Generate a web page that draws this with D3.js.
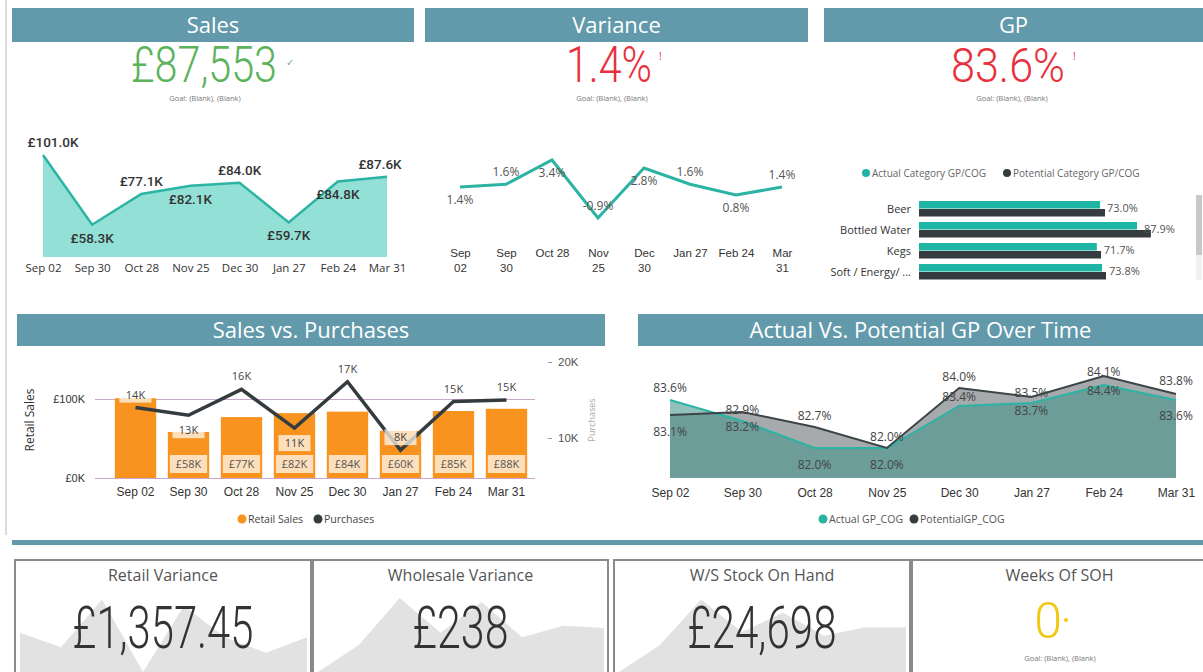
<!DOCTYPE html>
<html>
<head>
<meta charset="utf-8">
<script src="https://cdn.jsdelivr.net/npm/d3@7"></script>
<style>
body { margin: 0; background: #fff; }
svg { display: block; font-family: "Open Sans", sans-serif; }
</style>
</head>
<body>
<script>
// ---- data ----
var weeks = ["Sep 02", "Sep 30", "Oct 28", "Nov 25", "Dec 30", "Jan 27", "Feb 24", "Mar 31"];
var salesK = [101.0, 58.3, 77.1, 82.1, 84.0, 59.7, 84.8, 87.6];
var variancePct = [1.4, 1.6, 3.4, -0.9, 2.8, 1.6, 0.8, 1.4];
var purchasesK = [14.0, 13.0, 16.4, 11.3, 17.4, 8.4, 14.8, 15.0];
var gpCategories = ["Beer", "Bottled Water", "Kegs", "Soft / Energy/ ..."];
var actualCatGP = [73.0, 87.9, 71.7, 73.8];
var potentialCatGP = [75.0, 93.5, 73.4, 75.4];
var actualGP = [83.6, 82.9, 82.0, 82.0, 83.4, 83.5, 84.1, 83.6];
var potentialGP = [83.1, 83.2, 82.7, 82.0, 84.0, 83.7, 84.4, 83.8];
var kpiTitles = ["Retail Variance", "Wholesale Variance", "W/S Stock On Hand", "Weeks Of SOH"];
var kpiValues = ["£1,357.45", "£238", "£24,698", "0"];
var retailVarTrend = [51, 32, 94, 0, 86, 45, 25, 45];
var wholesaleVarTrend = [0, 35, 96, 51, 91, 45, 60, 57];
var stockTrend = [0, 35, 94, 52, 77, 47, 58, 58];

var width = 1203,
    height = 672;

var headColor = "#6299ab",
    teal = "#2bb3a3",
    dark = "#343c3f",
    orange = "#f7931e";

var svg = d3.select("body").append("svg")
    .attr("width", width)
    .attr("height", height);

// faint panel edge on the left
svg.append("line").attr("x1", 6).attr("x2", 6).attr("y1", 0).attr("y2", 535)
    .attr("stroke", "#dcdcdc").attr("stroke-width", 2);

function header(x, y, w, h, title) {
  svg.append("rect").attr("x", x).attr("y", y).attr("width", w).attr("height", h)
      .attr("fill", headColor);
  svg.append("text").attr("x", x + w / 2).attr("y", y + h / 2 + 8)
      .attr("text-anchor", "middle").attr("fill", "#fff")
      .style("font-size", "22px").text(title);
}

// condensed light number: squeeze horizontally to the width seen in the picture
function bigNumber(x, y, txt, len, color, size) {
  var g = svg.append("g");
  var t = g.append("text")
      .attr("text-anchor", "middle").attr("fill", color)
      .style("font-family", "Roboto, sans-serif").style("font-weight", 300)
      .style("font-size", size + "px").text(txt);
  var w = t.node().getComputedTextLength();
  g.attr("transform", "translate(" + x + "," + y + ") scale(" + (len / w) + ",1)");
}

function goal(x, y) {
  svg.append("text").attr("x", x).attr("y", y).attr("text-anchor", "middle")
      .attr("fill", "#777").style("font-size", "7.5px").text("Goal: (Blank), (Blank)");
}

header(12, 8, 402, 34, "Sales");
header(425, 8, 383, 34, "Variance");
header(824, 8, 379, 34, "GP");
header(17, 314, 588, 32, "Sales vs. Purchases");
header(638, 314, 565, 32, "Actual Vs. Potential GP Over Time");

bigNumber(204, 82, "£87,553", 146, "#5bb35b", 49);
svg.append("text").attr("x", 286).attr("y", 66).attr("fill", "#7fa88a")
    .style("font-size", "10px").text("✓");
goal(205, 101);

bigNumber(609, 82, "1.4%", 86, "#e8313d", 49);
svg.append("text").attr("x", 659).attr("y", 60).attr("fill", "#e8313d")
    .style("font-size", "10px").text("!");
goal(612, 101);

bigNumber(1008, 82, "83.6%", 114, "#e8313d", 49);
svg.append("text").attr("x", 1073).attr("y", 60).attr("fill", "#e8313d")
    .style("font-size", "10px").text("!");
goal(1012, 101);

// ---- Sales area ----
var sx = d3.scalePoint().domain(weeks).range([43, 387]);
var sy = d3.scaleLinear().domain([38.5, 101]).range([257, 155]);

svg.append("path").datum(salesK)
    .attr("fill", "#93e1d6")
    .attr("d", d3.area()
        .x(function(d, i) { return sx(weeks[i]); })
        .y0(sy(38.5))
        .y1(function(d) { return sy(d); }));

svg.append("path").datum(salesK)
    .attr("fill", "none").attr("stroke", teal).attr("stroke-width", 2.5)
    .attr("d", d3.line()
        .x(function(d, i) { return sx(weeks[i]); })
        .y(function(d) { return sy(d); }));

var salesAbove = [1, 0, 1, 0, 1, 0, 0, 1];
svg.selectAll(".slbl").data(salesK).enter().append("text")
    .attr("class", "slbl")
    .attr("x", function(d, i) { return Math.min(380, Math.max(53, sx(weeks[i]))); })
    .attr("y", function(d, i) { return sy(d) + (salesAbove[i] ? -8 : 18); })
    .attr("text-anchor", "middle").attr("fill", "#333")
    .style("font-family", "Roboto, sans-serif").style("font-weight", 500)
    .style("font-size", "13.5px")
    .text(function(d) { return "£" + d.toFixed(1) + "K"; });

var sAxis = svg.append("g").attr("transform", "translate(0,257)")
    .call(d3.axisBottom(sx).tickSize(0).tickPadding(7));
sAxis.select(".domain").remove();
sAxis.selectAll("text").attr("fill", "#333").style("font-size", "11.5px")
    .style("font-family", "Open Sans, sans-serif");

// ---- Variance line ----
var vx = d3.scalePoint().domain(weeks).range([460, 782]);
var vy = d3.scaleLinear().domain([-0.9, 3.4]).range([218, 160]);

svg.append("path").datum(variancePct)
    .attr("fill", "none").attr("stroke", teal).attr("stroke-width", 3)
    .attr("d", d3.line()
        .x(function(d, i) { return vx(weeks[i]); })
        .y(function(d) { return vy(d); }));

var varAbove = [0, 1, 0, 1, 0, 1, 0, 1];
svg.selectAll(".vlbl").data(variancePct).enter().append("text")
    .attr("class", "vlbl")
    .attr("x", function(d, i) { return vx(weeks[i]); })
    .attr("y", function(d, i) { return vy(d) + (varAbove[i] ? -8 : 17); })
    .attr("text-anchor", "middle").attr("fill", "#555")
    .style("font-size", "12px")
    .text(function(d) { return d.toFixed(1) + "%"; });

var varWrap = [1, 1, 0, 1, 1, 0, 0, 1];
var vAxis = svg.append("g").attr("transform", "translate(0,245)")
    .call(d3.axisBottom(vx).tickSize(0).tickPadding(0));
vAxis.select(".domain").remove();
vAxis.selectAll("text").attr("fill", "#333").attr("dy", null).attr("y", 12)
    .style("font-size", "11.5px")
    .each(function(d, i) {
      if (!varWrap[i]) return;
      var t = d3.select(this), parts = d.split(" ");
      t.text(null);
      t.append("tspan").attr("x", 0).attr("y", 12).text(parts[0]);
      t.append("tspan").attr("x", 0).attr("y", 27).text(parts[1]);
    });

// ---- GP category bars ----
var gx = d3.scaleLinear().domain([0, 100]).range([919, 1167]);
var gy = d3.scaleBand().domain(gpCategories).range([201, 285]);

var leg1 = svg.append("g").style("font-size", "10px");
leg1.append("circle").attr("cx", 866).attr("cy", 173).attr("r", 4).attr("fill", "#1fb5a4");
leg1.append("text").attr("x", 872).attr("y", 177).attr("fill", "#666").text("Actual Category GP/COG");
leg1.append("circle").attr("cx", 1007).attr("cy", 173).attr("r", 4).attr("fill", dark);
leg1.append("text").attr("x", 1013).attr("y", 177).attr("fill", "#666").text("Potential Category GP/COG");

svg.selectAll(".abar").data(actualCatGP).enter().append("rect")
    .attr("x", gx(0))
    .attr("y", function(d, i) { return gy(gpCategories[i]); })
    .attr("width", function(d) { return gx(d) - gx(0); })
    .attr("height", 7.5).attr("fill", "#1fb5a4");
svg.selectAll(".pbar").data(potentialCatGP).enter().append("rect")
    .attr("x", gx(0))
    .attr("y", function(d, i) { return gy(gpCategories[i]) + 8; })
    .attr("width", function(d) { return gx(d) - gx(0); })
    .attr("height", 7.5).attr("fill", dark);

svg.selectAll(".gcat").data(gpCategories).enter().append("text")
    .attr("x", 911).attr("y", function(d) { return gy(d) + 12; })
    .attr("text-anchor", "end").attr("fill", "#333").style("font-size", "11px")
    .text(function(d) { return d; });
svg.selectAll(".gval").data(actualCatGP).enter().append("text")
    .attr("x", function(d) { return gx(d) + 7; })
    .attr("y", function(d, i) { return gy(gpCategories[i]) + 11; })
    .attr("fill", "#555").style("font-size", "11px")
    .text(function(d) { return d.toFixed(1) + "%"; });

// scrollbar
svg.append("rect").attr("x", 1196).attr("y", 255).attr("width", 6).attr("height", 25).attr("fill", "#f0f0f0");
svg.append("rect").attr("x", 1196).attr("y", 195).attr("width", 6).attr("height", 60).attr("fill", "#c8c8c8");

// ---- Sales vs Purchases ----
var bx = d3.scaleBand().domain(weeks).range([109, 533]).paddingInner(0.22).paddingOuter(0.11);
var byL = d3.scaleLinear().domain([0, 100]).range([478, 399]);
var byR = d3.scaleLinear().domain([10, 20]).range([438, 362]);

var lAxis = svg.append("g").attr("transform", "translate(95,0)")
    .call(d3.axisLeft(byL).tickValues([0, 100]).tickSize(-440).tickPadding(10)
        .tickFormat(function(d) { return "£" + d + "K"; }));
lAxis.select(".domain").remove();
lAxis.selectAll("line").attr("stroke", "#c9a6c9");
lAxis.selectAll("text").attr("fill", "#333").style("font-size", "11px");

var rAxis = svg.append("g").attr("transform", "translate(548,0)")
    .call(d3.axisRight(byR).tickValues([10, 20]).tickSize(4).tickPadding(6)
        .tickFormat(function(d) { return d + "K"; }));
rAxis.select(".domain").remove();
rAxis.selectAll("line").attr("stroke", "#999");
rAxis.selectAll("text").attr("fill", "#555").style("font-size", "11.5px");

svg.append("text").attr("transform", "translate(34,420) rotate(-90)")
    .attr("text-anchor", "middle").attr("fill", "#333").style("font-size", "12px").text("Retail Sales");
svg.append("text").attr("transform", "translate(595,420) rotate(-90)")
    .attr("text-anchor", "middle").attr("fill", "#aaa").style("font-size", "9px").text("Purchases");

svg.selectAll(".sbar").data(salesK).enter().append("rect")
    .attr("x", function(d, i) { return bx(weeks[i]); })
    .attr("y", function(d) { return byL(d); })
    .attr("width", bx.bandwidth())
    .attr("height", function(d) { return byL(0) - byL(d); })
    .attr("fill", orange);

salesK.forEach(function(d, i) {
  if (i === 0) return;
  var x = bx(weeks[i]);
  svg.append("rect").attr("x", x + 2).attr("y", 455).attr("width", bx.bandwidth() - 4).attr("height", 18)
      .attr("fill", "#fff").attr("opacity", 0.7);
  svg.append("text").attr("x", x + bx.bandwidth() / 2).attr("y", 468)
      .attr("text-anchor", "middle").attr("fill", "#555").style("font-size", "11px")
      .text("£" + Math.round(d) + "K");
});

svg.append("path").datum(purchasesK)
    .attr("fill", "none").attr("stroke", dark).attr("stroke-width", 3.5)
    .attr("d", d3.line()
        .x(function(d, i) { return bx(weeks[i]) + bx.bandwidth() / 2; })
        .y(function(d) { return byR(d); }));

var purAbove = [1, 0, 1, 0, 1, 1, 1, 1];
purchasesK.forEach(function(d, i) {
  var cx = bx(weeks[i]) + bx.bandwidth() / 2;
  var cy = byR(d) + (purAbove[i] ? -13 : 15);
  svg.append("rect").attr("x", cx - 16).attr("y", cy - 8).attr("width", 32).attr("height", 16)
      .attr("fill", "#fff").attr("opacity", 0.7);
  svg.append("text").attr("x", cx).attr("y", cy + 4)
      .attr("text-anchor", "middle").attr("fill", "#444").style("font-size", "11px")
      .text(Math.round(d) + "K");
});

var bAxis = svg.append("g").attr("transform", "translate(0,478)")
    .call(d3.axisBottom(bx).tickSize(0).tickPadding(9));
bAxis.select(".domain").remove();
bAxis.selectAll("text").attr("fill", "#333").style("font-size", "12px");

var leg2 = svg.append("g").style("font-size", "10.5px");
leg2.append("circle").attr("cx", 242).attr("cy", 519).attr("r", 4.5).attr("fill", orange);
leg2.append("text").attr("x", 248).attr("y", 523).attr("fill", "#444").text("Retail Sales");
leg2.append("circle").attr("cx", 318).attr("cy", 519).attr("r", 4.5).attr("fill", dark);
leg2.append("text").attr("x", 324).attr("y", 523).attr("fill", "#444").text("Purchases");

// ---- Actual vs Potential GP ----
var ax = d3.scalePoint().domain(weeks).range([670, 1176]);
var ay = d3.scaleLinear().domain([81, 84.5]).range([478, 373]);

function gpArea(vals) {
  return d3.area()
      .x(function(d, i) { return ax(weeks[i]); })
      .y0(ay(81))
      .y1(function(d) { return ay(d); })(vals);
}
function gpLine(vals) {
  return d3.line()
      .x(function(d, i) { return ax(weeks[i]); })
      .y(function(d) { return ay(d); })(vals);
}

svg.append("path").attr("d", gpArea(potentialGP)).attr("fill", "#a7aaac");
svg.append("path").attr("d", gpArea(actualGP)).attr("fill", "#41958c").attr("opacity", 0.58);
svg.append("path").attr("d", gpLine(actualGP)).attr("fill", "none").attr("stroke", teal).attr("stroke-width", 2);
svg.append("path").attr("d", gpLine(potentialGP)).attr("fill", "none").attr("stroke", "#3c4447").attr("stroke-width", 2);

var actDy = [-12, -11, 17, 17, -9, -10, -13, 16];
var potDy = [17, 15, -11, -11, -11, 14, 15, -13];
function gpLabels(vals, dys) {
  vals.forEach(function(d, i) {
    svg.append("text")
        .attr("x", Math.min(1182, Math.max(666, ax(weeks[i]))))
        .attr("y", ay(d) + dys[i] + 4)
        .attr("text-anchor", "middle").attr("fill", "#444").style("font-size", "12px")
        .text(d.toFixed(1) + "%");
  });
}
gpLabels(actualGP, actDy);
gpLabels(potentialGP, potDy);

var aAxis = svg.append("g").attr("transform", "translate(0,480)")
    .call(d3.axisBottom(ax).tickSize(0).tickPadding(8));
aAxis.select(".domain").remove();
aAxis.selectAll("text").attr("fill", "#333").style("font-size", "12px");

var leg3 = svg.append("g").style("font-size", "10.5px");
leg3.append("circle").attr("cx", 823).attr("cy", 519).attr("r", 4.5).attr("fill", teal);
leg3.append("text").attr("x", 829).attr("y", 523).attr("fill", "#555").text("Actual GP_COG");
leg3.append("circle").attr("cx", 914).attr("cy", 519).attr("r", 4.5).attr("fill", dark);
leg3.append("text").attr("x", 920).attr("y", 523).attr("fill", "#555").text("PotentialGP_COG");

// ---- bottom KPI cards ----
svg.append("rect").attr("x", 12).attr("y", 540).attr("width", 1191).attr("height", 5).attr("fill", headColor);

var cards = [
  { x: 15, w: 296, trend: retailVarTrend, len: 181 },
  { x: 313, w: 295, trend: wholesaleVarTrend, len: 96 },
  { x: 614, w: 296, trend: stockTrend, len: 149 },
  { x: 912, w: 295, trend: null, len: 0 }
];
var ky = d3.scaleLinear().domain([0, 100]).range([672, 595]);

cards.forEach(function(c, k) {
  if (c.trend) {
    var kx = d3.scalePoint().domain(weeks).range([c.x + 5, c.x + c.w - 4]);
    svg.append("path").datum(c.trend).attr("fill", "#e2e2e2")
        .attr("d", d3.area()
            .x(function(d, i) { return kx(weeks[i]); })
            .y0(ky(0))
            .y1(function(d) { return ky(d); }));
  }
  svg.append("rect").attr("x", c.x).attr("y", 560).attr("width", c.w).attr("height", 120)
      .attr("fill", "none").attr("stroke", "#8a8a8a").attr("stroke-width", 2);
  svg.append("text").attr("x", c.x + c.w / 2).attr("y", 581).attr("text-anchor", "middle")
      .attr("fill", "#555").style("font-size", "16px").text(kpiTitles[k]);
  if (c.trend) bigNumber(c.x + c.w / 2, 648, kpiValues[k], c.len, "#333", 60);
});

svg.append("text").attr("x", 1048).attr("y", 638).attr("text-anchor", "middle")
    .attr("fill", "#f2c811").style("font-family", "Roboto, sans-serif").style("font-weight", 300)
    .style("font-size", "50px").text(kpiValues[3]);
svg.append("circle").attr("cx", 1066).attr("cy", 620).attr("r", 2).attr("fill", "#f2c811");
goal(1060, 661);
</script>
</body>
</html>
